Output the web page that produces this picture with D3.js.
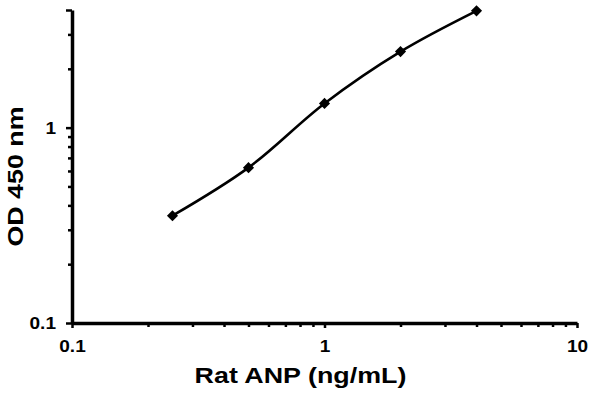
<!DOCTYPE html>
<html lang="en">
<head>
  <meta charset="UTF-8" />
  <title>Rat ANP standard curve</title>
  <script src="https://d3js.org/d3.v7.min.js"></script>
  <style>
    body {
      margin: 0;
      background: #fff;
      font-family: "Liberation Sans", Arial, sans-serif;
    }
    svg text {
      font-weight: bold;
      fill: #000;
    }
  </style>
</head>
<body>
  <svg id="chart" width="600" height="393"></svg>

  <script>
    // standard curve values
    const concentrations = [0.25, 0.5, 1, 2, 4];
    const odValues = [0.354, 0.624, 1.33, 2.45, 3.96];

    const xTickLabels = [0.1, 1, 10];
    const yTickLabels = [0.1, 1];
    const xMinorTicks = [0.2, 0.3, 0.4, 0.5, 0.6, 0.7, 0.8, 0.9, 2, 3, 4, 5, 6, 7, 8, 9];
    const yMinorTicks = [0.2, 0.3, 0.4, 0.5, 0.6, 0.7, 0.8, 0.9, 2, 3];

    const svg = d3.select("#chart");
    const plotLeft = 72, plotRight = 577, plotTop = 10, plotBottom = 323;

    const x = d3.scaleLog().domain([0.1, 10]).range([plotLeft, plotRight]);
    const y = d3.scaleLog().domain([0.1, 4]).range([plotBottom, plotTop]);

    // the original font runs a bit wider than Liberation Sans
    function widen(sel, factor) {
      sel.each(function() {
        const w = this.getComputedTextLength();
        if (w > 0) {
          d3.select(this).attr("textLength", w * factor).attr("lengthAdjust", "spacingAndGlyphs");
        }
      });
    }

    // minor ticks first so the axis line sits on top
    svg.append("g")
      .attr("transform", `translate(0,${plotBottom})`)
      .call(d3.axisBottom(x).tickValues(xMinorTicks).tickSize(4).tickFormat(""))
      .call(g => g.select(".domain").remove())
      .call(g => g.selectAll("line").attr("stroke-width", 2.5));

    svg.append("g")
      .attr("transform", `translate(${plotLeft},0)`)
      .call(d3.axisLeft(y).tickValues(yMinorTicks).tickSize(4).tickFormat(""))
      .call(g => g.select(".domain").remove())
      .call(g => g.selectAll("line").attr("stroke-width", 2.5));

    const xAxis = svg.append("g")
      .attr("transform", `translate(0,${plotBottom})`)
      .call(d3.axisBottom(x).tickValues(xTickLabels).tickSize(5).tickSizeOuter(0)
        .tickPadding(12).tickFormat(d3.format("~g")));
    xAxis.select(".domain").attr("stroke-width", 3.5);
    xAxis.selectAll("line").attr("stroke-width", 2.5);
    xAxis.selectAll("text").attr("font-size", 17).attr("font-family", "Liberation Sans, Arial, sans-serif")
      .call(widen, 1.12);

    const yAxis = svg.append("g")
      .attr("transform", `translate(${plotLeft},0)`)
      .call(d3.axisLeft(y).tickValues(yTickLabels.concat([4])).tickSize(6).tickSizeOuter(0)
        .tickPadding(10).tickFormat(d => d === 4 ? "" : d3.format("~g")(d)));
    yAxis.select(".domain").attr("stroke-width", 3.5);
    yAxis.selectAll("line").attr("stroke-width", 2.5);
    yAxis.selectAll("text").attr("font-size", 17).attr("font-family", "Liberation Sans, Arial, sans-serif")
      .call(widen, 1.12);

    const points = concentrations.map((c, i) => [c, odValues[i]]);

    svg.append("path")
      .datum(points)
      .attr("fill", "none")
      .attr("stroke", "#000")
      .attr("stroke-width", 2.6)
      .attr("d", d3.line().x(d => x(d[0])).y(d => y(d[1])).curve(d3.curveCatmullRom.alpha(0.5)));

    svg.append("g")
      .selectAll("path")
      .data(points)
      .join("path")
      .attr("transform", d => `translate(${x(d[0])},${y(d[1])}) rotate(45)`)
      .attr("d", d3.symbol(d3.symbolSquare, 62))
      .attr("fill", "#000");

    svg.append("text")
      .attr("x", (plotLeft + plotRight) / 2 - 24)
      .attr("y", 383)
      .attr("text-anchor", "middle")
      .attr("font-size", 22)
      .text("Rat ANP (ng/mL)")
      .call(widen, 1.22);

    svg.append("text")
      .attr("transform", `translate(23,${(plotTop + plotBottom) / 2 + 10}) rotate(-90)`)
      .attr("text-anchor", "middle")
      .attr("font-size", 22)
      .text("OD 450 nm")
      .call(widen, 1.22);
  </script>
</body>
</html>
